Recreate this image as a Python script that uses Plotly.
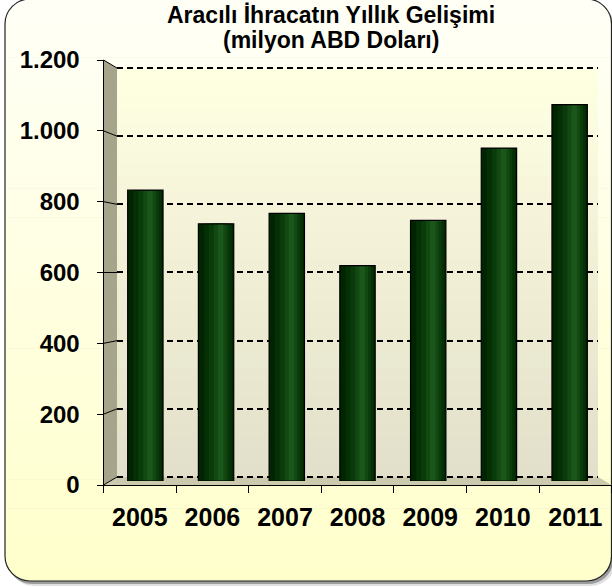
import math
import plotly.graph_objects as go

# data
YEARS = ["2005", "2006", "2007", "2008", "2009", "2010", "2011"]
VALUES = [837, 740, 770, 620, 750, 958, 1083]
YTICKS = [0, 200, 400, 600, 800, 1000, 1200]
YTICK_LABELS = ["0", "200", "400", "600", "800", "1.000", "1.200"]
TITLE_1 = "Aracılı İhracatın Yıllık Gelişimi"
TITLE_2 = "(milyon ABD Doları)"

W, H = 612, 587
FONT = "Liberation Sans, Arial, sans-serif"

# geometry of the fake 3d box (pixels)
FRONT = dict(x0=103.5, x1=611.7, y0=485, y1=60)   # front axes
BACK = dict(x0=117, x1=598, y0=477, y1=68)        # back wall
MID = dict(x0=110, x1=605, y0=481, y1=64)         # bars sit here

BOX_L, BOX_T, BOX_R, BOX_B, BOX_RAD = 5, -1, 611.5, 581, 25
YMAX = 1200
PAD = 4  # extra value range on the wall axis so edge gridlines are kept


def fx(x):
    return x / W


def fy(y):
    return 1 - y / H


def pt(x, y):
    return f"{fx(x):.5f},{fy(y):.5f}"


def dom(d):
    return dict(x=[fx(d["x0"]), fx(d["x1"])], y=[fy(d["y0"]), fy(d["y1"])])


def mix(c0, c1, t):
    return "rgb(%d,%d,%d)" % tuple(round(a + (b - a) * t) for a, b in zip(c0, c1))


def box_x(y, L, T, R, B, r):
    # horizontal extent of the rounded box at height y
    if y < T + r:
        d = r - math.sqrt(max(r * r - (T + r - y) ** 2, 0))
    elif y > B - r:
        d = r - math.sqrt(max(r * r - (y - (B - r)) ** 2, 0))
    else:
        d = 0
    return L + d, R - d


def rounded_path(L, T, R, B, r):
    k = 0.5523 * r
    return ("M " + pt(L + r, T) + " L " + pt(R - r, T)
            + " C " + pt(R - r + k, T) + " " + pt(R, T + r - k) + " " + pt(R, T + r)
            + " L " + pt(R, B - r)
            + " C " + pt(R, B - r + k) + " " + pt(R - r + k, B) + " " + pt(R - r, B)
            + " L " + pt(L + r, B)
            + " C " + pt(L + r - k, B) + " " + pt(L, B - r + k) + " " + pt(L, B - r)
            + " L " + pt(L, T + r)
            + " C " + pt(L, T + r - k) + " " + pt(L + r - k, T) + " " + pt(L + r, T) + " Z")


shapes = []

# drop shadow of the outer panel
for dx, dy, op in [(4, 5, 0.12), (2, 3, 0.3)]:
    shapes.append(dict(type="path", xref="paper", yref="paper", layer="below",
                       path=rounded_path(BOX_L + dx, BOX_T + dy, BOX_R + dx, BOX_B + dy, BOX_RAD),
                       fillcolor=f"rgba(0,0,0,{op})", line=dict(width=0)))

# panel gradient, light cream at top to yellow at the bottom
n = 40
for i in range(n):
    y0 = BOX_T + (BOX_B - BOX_T) * i / n
    y1 = BOX_T + (BOX_B - BOX_T) * (i + 1) / n + 0.6
    y1 = min(y1, BOX_B)
    ys = [y0 + (y1 - y0) * j / 4 for j in range(5)]
    left = [(box_x(y, BOX_L, BOX_T, BOX_R, BOX_B, BOX_RAD)[0], y) for y in ys]
    right = [(box_x(y, BOX_L, BOX_T, BOX_R, BOX_B, BOX_RAD)[1], y) for y in reversed(ys)]
    p = "M " + " L ".join(pt(x, y) for x, y in left + right) + " Z"
    shapes.append(dict(type="path", xref="paper", yref="paper", layer="below", path=p,
                       fillcolor=mix((255, 255, 246), (255, 255, 204), i / (n - 1)),
                       line=dict(width=0)))

shapes.append(dict(type="path", xref="paper", yref="paper", layer="below",
                   path=rounded_path(BOX_L, BOX_T, BOX_R, BOX_B, BOX_RAD),
                   fillcolor="rgba(0,0,0,0)", line=dict(color="#222222", width=1.2)))

# back wall gradient
n = 30
for i in range(n):
    y0 = BACK["y1"] + (BACK["y0"] - BACK["y1"]) * i / n
    y1 = BACK["y1"] + (BACK["y0"] - BACK["y1"]) * (i + 1) / n + 0.6
    shapes.append(dict(type="rect", xref="paper", yref="paper", layer="below",
                       x0=fx(BACK["x0"]), x1=fx(BACK["x1"]), y0=fy(y0), y1=fy(min(y1, BACK["y0"])),
                       fillcolor=mix((255, 255, 226), (226, 224, 202), i / (n - 1)),
                       line=dict(width=0)))

# side wall
shapes.append(dict(type="path", xref="paper", yref="paper", layer="below",
                   path="M " + pt(FRONT["x0"], FRONT["y1"]) + " L " + pt(BACK["x0"], BACK["y1"])
                   + " L " + pt(BACK["x0"], BACK["y0"]) + " L " + pt(FRONT["x0"], FRONT["y0"]) + " Z",
                   fillcolor="#a6a48a", line=dict(width=0)))
# floor
shapes.append(dict(type="path", xref="paper", yref="paper", layer="below",
                   path="M " + pt(FRONT["x0"], FRONT["y0"]) + " L " + pt(BACK["x0"], BACK["y0"])
                   + " L " + pt(BACK["x1"], BACK["y0"]) + " L " + pt(FRONT["x1"], FRONT["y0"]) + " Z",
                   fillcolor="#cccaae", line=dict(width=0)))

# little depth lines joining the front ticks to the wall grid
for v in YTICKS:
    yf = FRONT["y0"] + (FRONT["y1"] - FRONT["y0"]) * v / YMAX
    yb = BACK["y0"] + (BACK["y1"] - BACK["y0"]) * v / YMAX
    shapes.append(dict(type="line", xref="paper", yref="paper", layer="below",
                       x0=fx(FRONT["x0"]), y0=fy(yf), x1=fx(BACK["x0"]), y1=fy(yb),
                       line=dict(color="black", width=1)))

# wall axis spans a bit more than 0..1200 so the edge gridlines are drawn
k = (BACK["y0"] - BACK["y1"]) / YMAX
WALL = dict(x0=BACK["x0"], x1=BACK["x1"], y0=BACK["y0"] + PAD * k, y1=BACK["y1"] - PAD * k)

fig = go.Figure()

# invisible point so the back wall subplot (and its grid) is built
fig.add_trace(go.Scatter(x=[0.5], y=[0], xaxis="x", yaxis="y", mode="markers",
                         marker=dict(opacity=0), hoverinfo="skip", showlegend=False))

# cylinder look: stacked narrower bars, lighter towards the highlight
SHADE = [(0.50, 0.000, "#012401"), (0.40, 0.030, "#052f05"), (0.29, 0.045, "#0a3b0a"),
         (0.18, 0.058, "#124812"), (0.08, 0.065, "#1b561b")]
for w, s, c in SHADE:
    fig.add_trace(go.Bar(x=YEARS, y=VALUES, width=w, offset=-0.25 + (0.5 - w) / 2 + s,
                         marker=dict(color=c, line=dict(width=0)),
                         xaxis="x2", yaxis="y2", hoverinfo="skip", showlegend=False))
fig.add_trace(go.Bar(x=YEARS, y=VALUES, width=0.5, offset=-0.25,
                     marker=dict(color="rgba(0,0,0,0)", line=dict(color="#000000", width=1.2)),
                     xaxis="x2", yaxis="y2", showlegend=False))

# invisible point so the front axes get drawn
fig.add_trace(go.Scatter(x=[YEARS[0]], y=[0], xaxis="x3", yaxis="y3", mode="markers",
                         marker=dict(opacity=0), hoverinfo="skip", showlegend=False))

title_font = dict(family=FONT, size=23, color="black", weight="bold")

fig.update_layout(
    width=W, height=H, autosize=False,
    margin=dict(l=0, r=0, t=0, b=0, pad=0),
    paper_bgcolor="white", plot_bgcolor="rgba(0,0,0,0)",
    barmode="overlay", showlegend=False,
    shapes=shapes,
    # back wall: dashed grid only
    xaxis=dict(domain=dom(WALL)["x"], anchor="y", visible=False, range=[0, 1], automargin=False),
    yaxis=dict(domain=dom(WALL)["y"], anchor="x", range=[-PAD, YMAX + PAD], tickvals=YTICKS,
               showgrid=True, gridcolor="black", gridwidth=2, griddash="6px,4px",
               showticklabels=False, ticks="", showline=False, zeroline=False, automargin=False),
    # bars
    xaxis2=dict(domain=dom(MID)["x"], anchor="y2", visible=False, type="category",
                categoryorder="array", categoryarray=YEARS, range=[-0.5, 6.5], automargin=False),
    yaxis2=dict(domain=dom(MID)["y"], anchor="x2", visible=False, range=[0, YMAX], automargin=False),
    # front axes with ticks and labels
    xaxis3=dict(domain=dom(FRONT)["x"], anchor="y3", type="category",
                categoryorder="array", categoryarray=YEARS, range=[-0.5, 6.5],
                tickvals=YEARS, ticktext=YEARS, tickson="boundaries",
                ticks="outside", ticklen=7, tickcolor="black", tickwidth=1,
                showline=True, linecolor="black", linewidth=1, showgrid=False, automargin=False,
                tickfont=dict(family=FONT, size=25, color="black", weight="bold"),
                ticklabelstandoff=10),
    yaxis3=dict(domain=dom(FRONT)["y"], anchor="x3", range=[0, YMAX],
                tickvals=YTICKS, ticktext=YTICK_LABELS,
                ticks="outside", ticklen=6, tickcolor="black", tickwidth=1,
                showline=True, linecolor="black", linewidth=1, showgrid=False, zeroline=False,
                automargin=False,
                tickfont=dict(family=FONT, size=24, color="black", weight="bold"),
                ticklabelstandoff=12),
    annotations=[
        dict(text=TITLE_1, x=fx(331), y=fy(15), xref="paper", yref="paper",
             xanchor="center", yanchor="middle", showarrow=False, font=title_font),
        dict(text=TITLE_2, x=fx(331), y=fy(39.5), xref="paper", yref="paper",
             xanchor="center", yanchor="middle", showarrow=False, font=title_font),
    ],
)

fig.write_html(
    "out.html",
    config={"displayModeBar": False},
    post_script=("document.body.style.margin='0';document.body.style.overflow='hidden';"
                 "var gd=document.getElementById('{plot_id}');"
                 "gd.style.position='absolute';gd.style.left='0px';gd.style.top='0px';"),
)
